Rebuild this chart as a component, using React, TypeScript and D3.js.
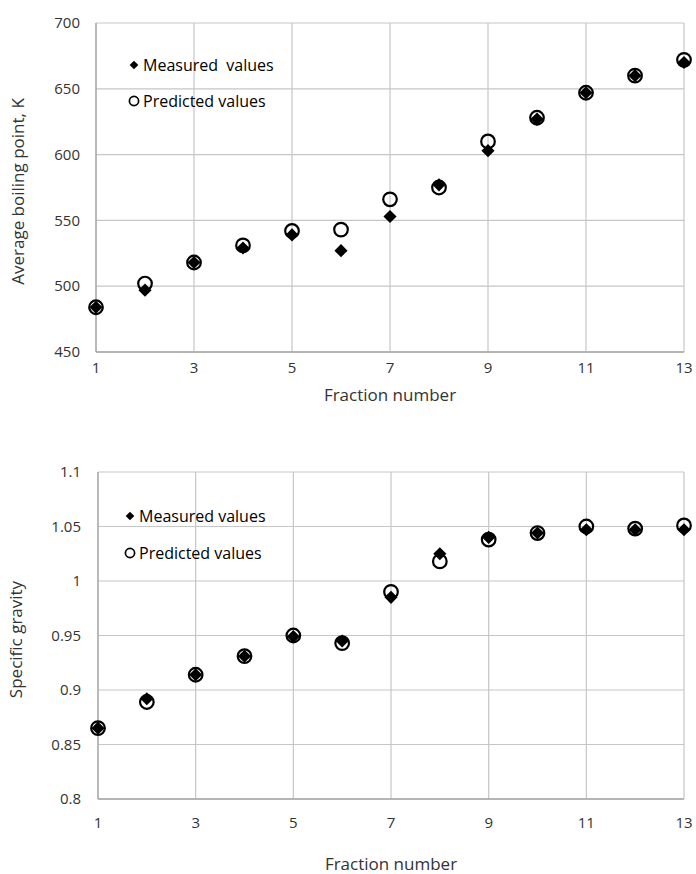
import { useEffect, useRef } from 'react'
import * as d3 from 'd3'

// fraction numbers
const fractions = [1, 2, 3, 4, 5, 6, 7, 8, 9, 10, 11, 12, 13]
const xTicks = [1, 3, 5, 7, 9, 11, 13]

// average boiling point, K
const bpMeasured = [484, 497, 518, 529, 539, 527, 553, 577, 603, 627, 647, 660, 670]
const bpPredicted = [484, 502, 518, 531, 542, 543, 566, 575, 610, 628, 647, 660, 672]
const bpTicks = [450, 500, 550, 600, 650, 700]

// specific gravity
const sgMeasured = [0.865, 0.892, 0.914, 0.931, 0.949, 0.945, 0.985, 1.025, 1.04, 1.044, 1.047, 1.047, 1.047]
const sgPredicted = [0.865, 0.889, 0.914, 0.931, 0.95, 0.943, 0.99, 1.018, 1.038, 1.044, 1.05, 1.048, 1.051]
const sgTicks = [0.8, 0.85, 0.9, 0.95, 1, 1.05, 1.1]

const FONT = '"Open Sans", "Noto Sans", sans-serif'
const TEXT = '#333'

const drawPanel = (svg, cfg) => {
  const { box, yDomain, yTicks, measured, predicted, yTitle, legend, tickGap, xLabelY, xTitleY, yTitleX, fmt } = cfg
  const [left, top, right, bottom] = box

  const x = d3.scaleLinear().domain([1, 13]).range([left, right])
  const y = d3.scaleLinear().domain(yDomain).range([bottom, top])

  const g = svg.append('g')

  // grid
  g.append('g')
    .selectAll('line')
    .data(yTicks)
    .join('line')
    .attr('x1', left).attr('x2', right)
    .attr('y1', (d) => y(d)).attr('y2', (d) => y(d))
    .attr('stroke', '#c6c6c6').attr('stroke-width', 1.2)
  g.append('g')
    .selectAll('line')
    .data(xTicks)
    .join('line')
    .attr('x1', (d) => x(d)).attr('x2', (d) => x(d))
    .attr('y1', top).attr('y2', bottom)
    .attr('stroke', '#c6c6c6').attr('stroke-width', 1.2)

  // axis lines
  g.append('line')
    .attr('x1', left).attr('x2', right).attr('y1', bottom).attr('y2', bottom)
    .attr('stroke', '#a6a6a6').attr('stroke-width', 1.3)
  g.append('line')
    .attr('x1', left).attr('x2', left).attr('y1', top).attr('y2', bottom)
    .attr('stroke', '#a6a6a6').attr('stroke-width', 1.3)

  // tick labels
  g.append('g')
    .selectAll('text')
    .data(yTicks)
    .join('text')
    .attr('x', left - tickGap)
    .attr('y', (d) => y(d))
    .attr('dy', '0.35em')
    .attr('text-anchor', 'end')
    .attr('font-size', 15)
    .attr('fill', TEXT)
    .text(fmt)
  g.append('g')
    .selectAll('text')
    .data(xTicks)
    .join('text')
    .attr('x', (d) => x(d))
    .attr('y', xLabelY)
    .attr('dy', '0.35em')
    .attr('text-anchor', 'middle')
    .attr('font-size', 15)
    .attr('fill', TEXT)
    .text((d) => d)

  // titles
  g.append('text')
    .attr('x', (left + right) / 2)
    .attr('y', xTitleY)
    .attr('dy', '0.35em')
    .attr('text-anchor', 'middle')
    .attr('font-size', 17)
    .attr('fill', TEXT)
    .text('Fraction number')
  g.append('text')
    .attr('transform', `translate(${yTitleX},${(top + bottom) / 2 + 4}) rotate(-90)`)
    .attr('dy', '0.35em')
    .attr('text-anchor', 'middle')
    .attr('font-size', 17)
    .attr('fill', TEXT)
    .text(yTitle)

  const diamond = d3.symbol().type(d3.symbolDiamond2)

  // predicted: open circles
  g.append('g')
    .selectAll('circle')
    .data(fractions)
    .join('circle')
    .attr('cx', (d) => x(d))
    .attr('cy', (d, i) => y(predicted[i]))
    .attr('r', 6.8)
    .attr('fill', 'none')
    .attr('stroke', '#000')
    .attr('stroke-width', 2.2)

  // measured: filled diamonds
  g.append('g')
    .selectAll('path')
    .data(fractions)
    .join('path')
    .attr('transform', (d, i) => `translate(${x(d)},${y(measured[i])})`)
    .attr('d', diamond.size(110)())
    .attr('fill', '#000')

  // legend
  const lg = g.append('g')
  lg.append('path')
    .attr('transform', `translate(${legend.x},${legend.y1})`)
    .attr('d', diamond.size(48)())
    .attr('fill', '#000')
  lg.append('circle')
    .attr('cx', legend.x).attr('cy', legend.y2).attr('r', 4.6)
    .attr('fill', 'none').attr('stroke', '#000').attr('stroke-width', 1.7)
  lg.append('text')
    .attr('x', legend.x + 9).attr('y', legend.y1).attr('dy', '0.35em')
    .attr('font-size', 16).attr('fill', '#000')
    .style('white-space', 'pre')
    .text(legend.label1)
  lg.append('text')
    .attr('x', legend.x + 9).attr('y', legend.y2).attr('dy', '0.35em')
    .attr('font-size', 16).attr('fill', '#000')
    .text('Predicted values')
}

export default function App() {
  const ref = useRef(null)

  useEffect(() => {
    const svg = d3.select(ref.current)
    svg.selectAll('*').remove()

    drawPanel(svg, {
      box: [96, 23, 684, 352],
      yDomain: [450, 700],
      yTicks: bpTicks,
      measured: bpMeasured,
      predicted: bpPredicted,
      yTitle: 'Average boiling point, K',
      legend: { x: 134, y1: 65, y2: 101, label1: 'Measured  values' },
      tickGap: 16,
      xLabelY: 368,
      xTitleY: 395,
      yTitleX: 18,
      fmt: (d) => d,
    })

    drawPanel(svg, {
      box: [98, 472, 684, 799],
      yDomain: [0.8, 1.1],
      yTicks: sgTicks,
      measured: sgMeasured,
      predicted: sgPredicted,
      yTitle: 'Specific gravity',
      legend: { x: 130, y1: 516, y2: 553, label1: 'Measured values' },
      tickGap: 17,
      xLabelY: 823,
      xTitleY: 864,
      yTitleX: 16,
      fmt: (d) => String(+d.toFixed(2)),
    })
  }, [])

  return (
    <svg
      ref={ref}
      width={696}
      height={874}
      viewBox="0 0 696 874"
      style={{ position: 'absolute', left: 0, top: 0, background: '#fff', fontFamily: FONT }}
    />
  )
}
